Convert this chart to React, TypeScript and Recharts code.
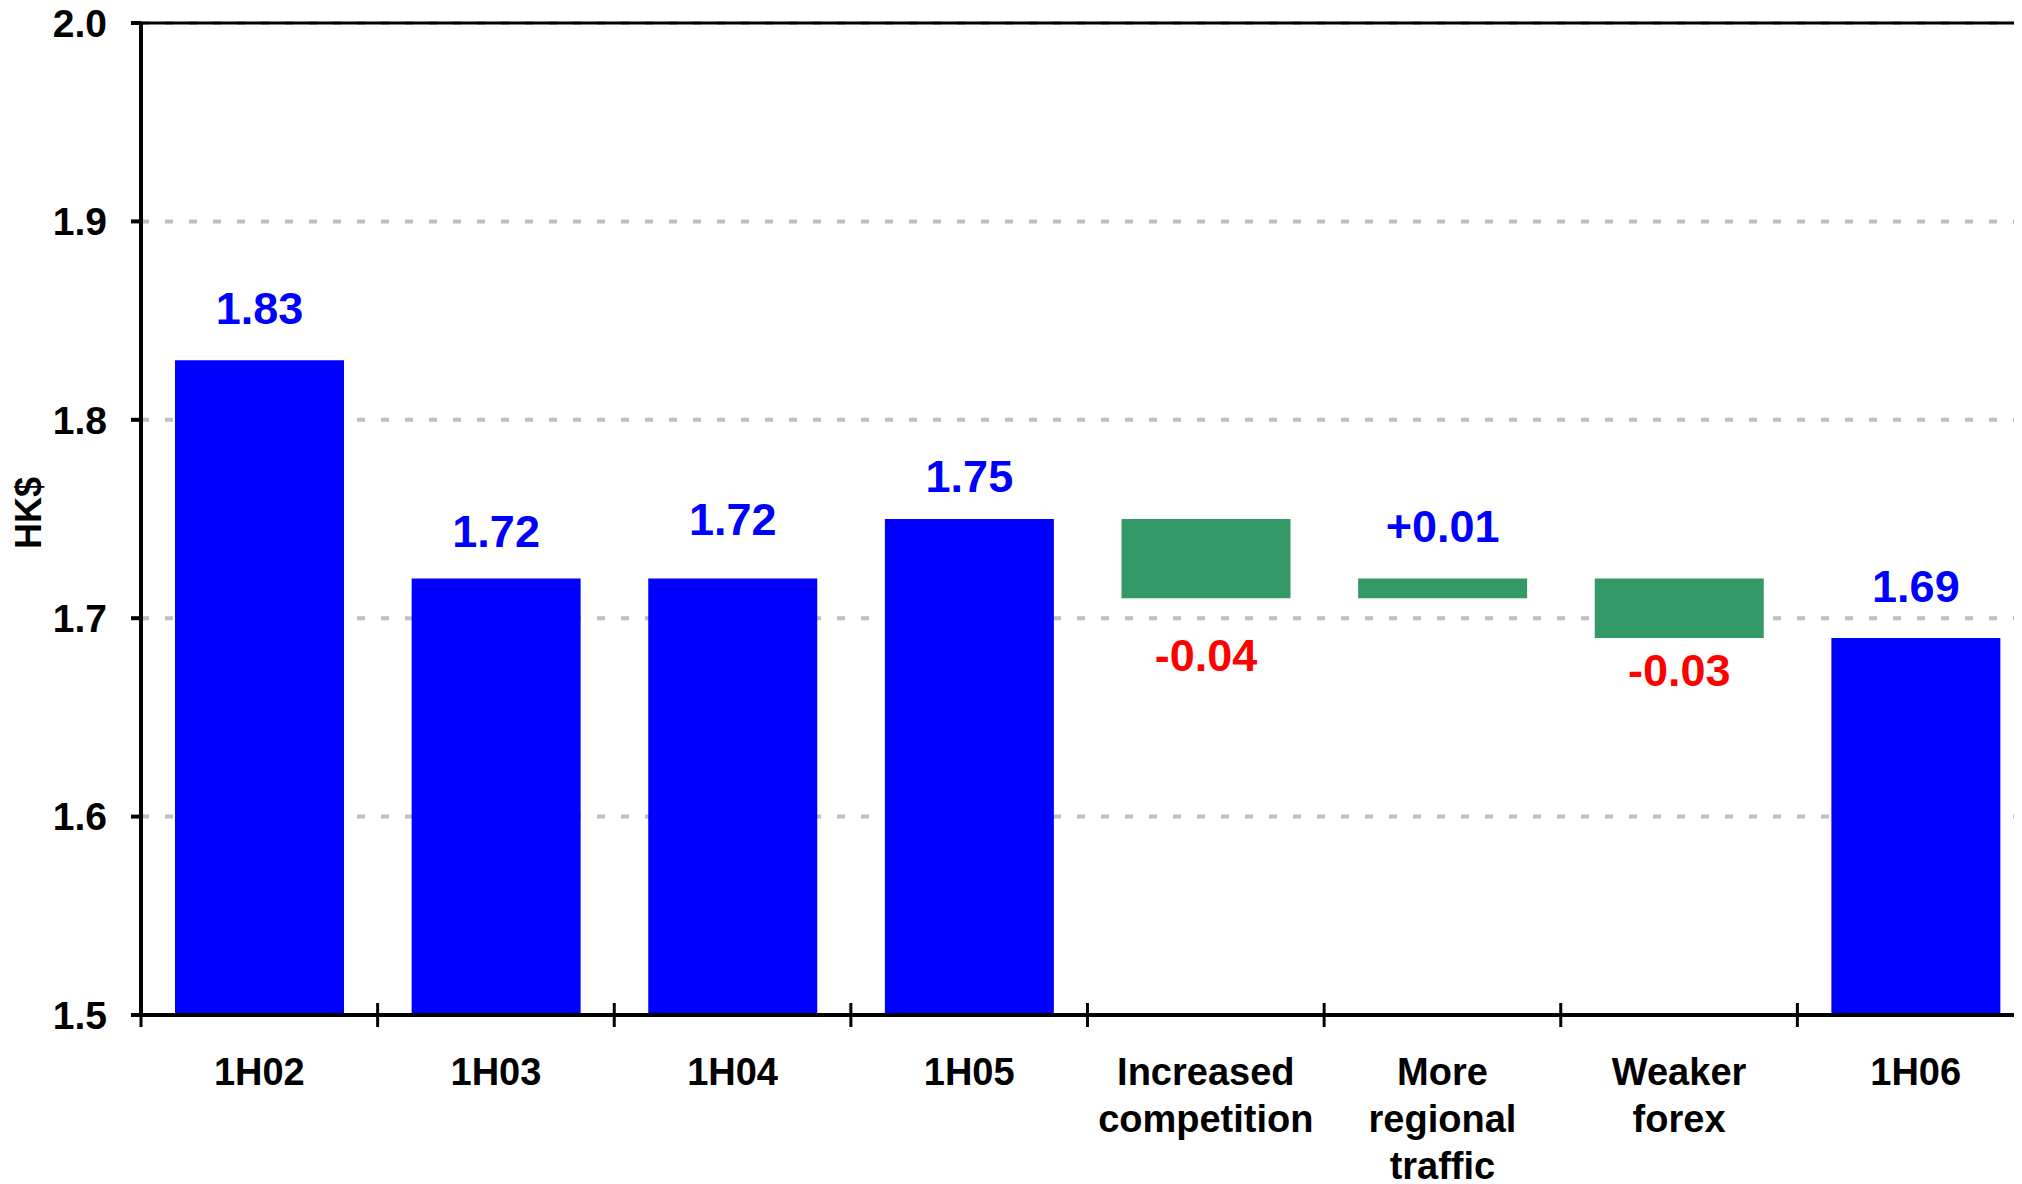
import {
  BarChart,
  Bar,
  XAxis,
  YAxis,
  CartesianGrid,
  ReferenceLine,
  LabelList,
  Cell,
} from "recharts";

const categories = [
  "1H02",
  "1H03",
  "1H04",
  "1H05",
  "Increased\ncompetition",
  "More\nregional\ntraffic",
  "Weaker\nforex",
  "1H06",
];
// reported half-year figures (null = bridge step)
const totals: (number | null)[] = [1.83, 1.72, 1.72, 1.75, null, null, null, 1.69];
// bridge movements from 1H05 to 1H06
const changes: (number | null)[] = [null, null, null, null, -0.04, 0.01, -0.03, null];
const yTicks = [1.5, 1.6, 1.7, 1.8, 1.9, 2.0];

const Y_MIN = 1.5;
const Y_MAX = 2.0;

const BLUE = "#0000FF";
const GREEN = "#339966";
const RED = "#FF0000";
const FONT = '"Liberation Sans", Arial, sans-serif';

const CHART_W = 2036;
const CHART_H = 1176;
const Y_AXIS_W = 133;
const RIGHT_PAD = 10;
const BAND = (CHART_W - Y_AXIS_W - RIGHT_PAD) / categories.length;
// hand-placed label distance from the bar edge, per category (styling only)
const LABEL_GAP = [52, 47, 59, 43, 57, 52, 32, 52];

let running = 0;
const data = categories.map((name, i) => {
  const t = totals[i];
  if (t != null) {
    running = t;
    return { name, range: [Y_MIN, t], kind: "total", label: `${i}|${t.toFixed(2)}` };
  }
  const d = changes[i] as number;
  const start = running;
  running = Math.round((running + d) * 100) / 100;
  return {
    name,
    range: [Math.min(start, running), Math.max(start, running)],
    kind: "change",
    label: `${i}|${d > 0 ? "+" : ""}${d.toFixed(2)}`,
  };
});

function CategoryTick(props: any) {
  const { x, y, payload } = props;
  const lines = String(payload.value).split("\n");
  const bx = x - BAND / 2;
  return (
    <g>
      <line x1={bx} x2={bx} y1={y - 12} y2={y + 12} stroke="#000" strokeWidth={3} />
      <text
        x={x}
        y={y + 70}
        textAnchor="middle"
        fill="#000"
        fontSize={38}
        fontWeight={700}
        fontFamily={FONT}
      >
        {lines.map((ln, i) => (
          <tspan key={i} x={x} dy={i === 0 ? 0 : 47}>
            {ln}
          </tspan>
        ))}
      </text>
    </g>
  );
}

function ValueLabel(props: any) {
  const { x, y, width, height, value } = props;
  const [idxStr, text] = String(value).split("|");
  const gap = LABEL_GAP[Number(idxStr)] ?? 50;
  const neg = text.startsWith("-");
  const cx = x + width / 2;
  const cy = neg ? y + height + gap : y - gap;
  return (
    <text
      x={cx}
      y={cy}
      textAnchor="middle"
      dominantBaseline="central"
      fill={neg ? RED : BLUE}
      fontSize={45}
      fontWeight={700}
      fontFamily={FONT}
    >
      {text}
    </text>
  );
}

export default function App() {
  return (
    <div style={{ width: 2014, height: CHART_H, overflow: "hidden", background: "#fff" }}>
      <BarChart
        width={CHART_W}
        height={CHART_H}
        data={data}
        margin={{ top: 15, right: RIGHT_PAD, left: 0, bottom: 0 }}
        barSize={169}
      >
        <CartesianGrid
          vertical={false}
          stroke="#C0C0C0"
          strokeWidth={4}
          strokeDasharray="8 16"
        />
        <XAxis
          dataKey="name"
          height={169}
          interval={0}
          tickSize={0}
          tickMargin={0}
          tickLine={false}
          axisLine={{ stroke: "#000", strokeWidth: 4 }}
          tick={<CategoryTick />}
        />
        <YAxis
          width={Y_AXIS_W}
          domain={[Y_MIN, Y_MAX]}
          ticks={yTicks}
          interval={0}
          tickFormatter={(v: number) => v.toFixed(1)}
          tickSize={10}
          tickMargin={24}
          tickLine={{ stroke: "#000", strokeWidth: 4 }}
          axisLine={{ stroke: "#000", strokeWidth: 4 }}
          tick={{ fill: "#000", fontSize: 39, fontWeight: 700, fontFamily: FONT }}
          label={{
            content: (p: any) => {
              const vb = p.viewBox || { y: 15, height: 992 };
              const cx = 20;
              const cy = vb.y + vb.height / 2 - 6;
              return (
                <text
                  x={cx}
                  y={cy}
                  transform={`rotate(-90 ${cx} ${cy})`}
                  textAnchor="middle"
                  dominantBaseline="central"
                  fill="#000"
                  fontSize={36}
                  fontWeight={700}
                  fontFamily={FONT}
                >
                  HK$
                </text>
              );
            },
          }}
        />
        <ReferenceLine y={Y_MAX} stroke="#000" strokeWidth={3} />
        <Bar dataKey="range" isAnimationActive={false}>
          {data.map((d, i) => (
            <Cell key={i} fill={d.kind === "total" ? BLUE : GREEN} />
          ))}
          <LabelList dataKey="label" content={<ValueLabel />} />
        </Bar>
      </BarChart>
    </div>
  );
}
